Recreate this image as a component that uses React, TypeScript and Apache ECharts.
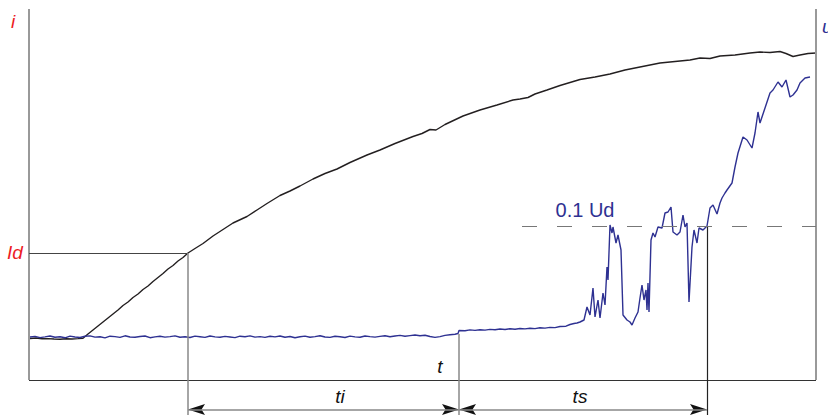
import React, { useEffect, useRef } from "react";
import * as echarts from "echarts";

// time (t) and current i (black trace)
const currentTrace: number[][] = [
  [1, 41.5], [7, 42], [13, 41.2], [19, 41.4], [25, 41], [31, 40.8], [37, 41.2], [43, 41], [49, 41.4], [54, 41.8],
  [59, 46], [64, 50], [69, 54], [74, 58], [79, 62], [84, 66], [89, 70], [94, 74.5], [99, 78], [104, 82.5],
  [109, 86], [114, 90.5], [119, 94], [124, 98.5], [129, 102.5], [134, 106.5], [139, 111], [144, 114.5], [149, 119],
  [154, 122.5], [159, 127], [166, 131.5], [174, 136.5], [184, 144], [194, 150.5], [204, 157], [218, 163.5],
  [228, 170], [238, 176.5], [251, 184.5], [261, 189], [271, 194], [284, 201], [296, 206.5], [308, 211],
  [321, 217.5], [338, 225], [351, 230], [366, 236.5], [384, 243.5], [393, 246.5], [401, 250.5], [407, 250],
  [416, 255.5], [434, 264], [451, 270], [468, 275], [484, 280], [491, 281], [499, 282.5], [506, 286], [518, 290],
  [531, 294.5], [551, 300.5], [566, 303], [581, 306], [596, 310], [611, 313], [631, 317], [646, 318.5],
  [661, 320], [671, 322], [681, 321.5], [691, 324], [706, 325], [721, 327], [731, 328], [741, 327.5],
  [751, 328.5], [757, 326.5], [764, 323.5], [771, 325], [779, 326.5], [787, 327],
];

// time (t) and voltage u (blue trace)
const voltageTrace: number[][] = [
  [1, 43.0], [6, 43.6], [11, 42.4], [16, 43.1], [21, 44.0], [26, 42.8], [31, 43.3], [36, 42.2], [41, 43.9], [46, 43.0],
  [51, 42.5], [56, 43.7], [61, 44.1], [66, 42.9], [71, 43.2], [76, 42.1], [81, 43.8], [86, 43.4], [91, 42.6], [96, 44.2],
  [101, 43.0], [106, 42.7], [111, 43.5], [116, 44.0], [121, 42.3], [126, 43.1], [131, 43.8], [136, 42.9], [141, 43.4],
  [146, 44.1], [151, 42.8], [156, 43.2], [161, 42.5], [166, 43.9], [171, 43.3], [176, 42.6], [181, 44.0], [186, 43.1],
  [191, 42.7], [196, 43.6], [201, 43.0], [206, 42.4], [211, 43.8], [216, 43.2], [221, 44.1], [226, 42.9], [231, 43.4],
  [236, 42.6], [241, 43.7], [246, 43.1], [251, 44.0], [256, 42.8], [261, 43.5], [266, 42.3], [271, 43.2], [276, 43.9],
  [281, 42.7], [286, 43.4], [291, 44.2], [296, 43.0], [301, 42.6], [306, 43.7], [311, 43.3], [316, 42.5], [321, 43.9],
  [326, 43.1], [331, 42.8], [336, 44.0], [341, 43.4], [346, 42.9], [351, 43.6], [356, 44.3], [361, 43.2], [366, 44.0],
  [371, 44.6], [376, 43.8], [381, 44.4], [386, 45.0], [391, 44.2], [396, 44.8], [401, 43.5], [406, 42.6], [411, 43.4],
  [416, 44.6], [421, 45.2], [426, 45.8], [429, 46.5],
  [430, 49.5], [436, 49.2], [441, 50.1], [446, 49.6], [451, 50.3], [456, 49.9], [461, 50.6], [466, 50.2], [471, 51.0],
  [476, 50.5], [481, 51.2], [486, 50.8], [491, 51.5], [496, 51.1], [501, 51.8], [506, 51.4], [511, 52.2], [516, 51.9],
  [521, 52.6], [526, 52.4], [531, 53.5], [537, 53.8], [541, 55.5], [545, 56.5], [548, 57], [551, 58], [555, 60],
  [558, 73], [561, 65], [564, 92], [566, 63], [569, 80], [571, 62], [574, 87], [576, 75], [578, 113], [579, 100],
  [581, 155], [583, 147], [584, 153], [587, 137], [589, 145], [592, 130], [594, 65], [598, 60], [601, 58], [603, 55],
  [606, 62], [609, 68], [611, 82], [613, 95], [615, 80], [617, 90], [618, 70], [619, 97], [620, 68], [622, 140],
  [624, 147], [626, 143], [629, 153], [633, 152], [636, 167], [639, 168], [642, 173], [644, 148], [648, 145],
  [651, 148], [654, 165], [656, 153], [658, 157], [660, 78], [663, 133], [665, 150], [668, 137], [670, 152],
  [674, 150], [678, 154], [681, 172], [684, 175], [688, 166], [691, 177], [693, 182], [696, 187], [698, 190],
  [703, 197], [706, 213], [709, 227], [714, 243], [718, 240], [723, 232], [726, 247], [729, 268], [731, 257],
  [736, 272], [741, 287], [744, 290], [749, 298], [753, 293], [757, 300], [761, 283], [764, 285], [768, 290],
  [771, 297], [776, 302], [781, 303],
];

// reference levels / instants
const ID_LEVEL = 127; // Id
const UD_LEVEL = 154; // 0.1 Ud
const T_ID = 159; // current reaches Id
const T_SWITCH = 430; // t
const T_END = 678; // voltage reaches 0.1 Ud
const T_FRAME = 787;
const I_FRAME = 371;
const ARROW_Y = -29.5;
const BOTTOM = -35;
const U_AT_SWITCH = 46;

// arrow tips: [t, level, direction]
const arrowTips: number[][] = [
  [T_ID, ARROW_Y, -1],
  [T_SWITCH, ARROW_Y, 1],
  [T_SWITCH, ARROW_Y, -1],
  [T_END, ARROW_Y, 1],
];

const RED = "#ed1c24";
const BLUE = "#2e3192";
const FONT = "Liberation Sans, Arial, sans-serif";

export default function App() {
  const ref = useRef<HTMLDivElement>(null);
  useEffect(() => {
    if (!ref.current) return;
    const chart = echarts.init(ref.current, undefined, { renderer: "svg" });
    const txt = (text: string, x: number, y: number, color: string, italic = true, align = "center", size = 19) => ({
      type: "text",
      x,
      y,
      style: {
        text,
        fill: color,
        font: `${italic ? "italic " : ""}${size}px ${FONT}`,
        align,
        verticalAlign: "middle",
      },
      silent: true,
    });
    const line = (a: number[], b: number[], color: string, width: number, type: any = "solid") => [
      { coord: a, lineStyle: { color, width, type } },
      { coord: b },
    ];
    chart.setOption({
      animation: false,
      grid: { left: 0, right: 0, top: 0, bottom: 0 },
      xAxis: { type: "value", min: -29, max: 799, show: false },
      yAxis: { type: "value", min: BOTTOM, max: 380, show: false },
      series: [
        {
          type: "line",
          data: [],
          silent: true,
          markLine: {
            silent: true,
            symbol: ["none", "none"],
            label: { show: false },
            emphasis: { disabled: true },
            data: [
              line([0, 0], [0, I_FRAME], "#999999", 2),
              line([T_FRAME, 0], [T_FRAME, I_FRAME], "#999999", 2),
              line([0, 0], [T_FRAME, 0], "#333333", 1),
              line([0, ID_LEVEL], [T_ID, ID_LEVEL], "#444444", 1),
              line([T_ID, ID_LEVEL], [T_ID, BOTTOM], "#888888", 1.5),
              line([T_SWITCH, U_AT_SWITCH], [T_SWITCH, BOTTOM], "#888888", 1.5),
              line([T_END, UD_LEVEL], [T_END, BOTTOM], "#222222", 1.2),
              line([493, UD_LEVEL], [T_FRAME, UD_LEVEL], "#777777", 1.2, [15, 20]),
              line([T_ID, ARROW_Y], [T_END, ARROW_Y], "#888888", 1.5),
            ],
          },
        },
        {
          type: "custom",
          silent: true,
          data: arrowTips,
          renderItem: (params: any, api: any) => {
            const p = api.coord([api.value(0), api.value(1)]);
            const d = api.value(2);
            const x = p[0];
            const y = p[1];
            return {
              type: "polygon",
              shape: {
                points: [
                  [x, y],
                  [x - d * 17, y - 5.5],
                  [x - d * 13.5, y],
                  [x - d * 17, y + 5.5],
                ],
              },
              style: { fill: "#111111" },
            };
          },
        },
        {
          type: "line",
          data: currentTrace,
          showSymbol: false,
          silent: true,
          lineStyle: { color: "#231f20", width: 1.4 },
        },
        {
          type: "line",
          data: voltageTrace,
          showSymbol: false,
          silent: true,
          lineStyle: { color: BLUE, width: 1.4 },
        },
      ],
      graphic: [
        txt("i", 13, 21, RED),
        txt("u", 822, 26, BLUE, true, "left"),
        txt("Id", 15, 252, RED),
        txt("t", 440, 366, "#111111"),
        txt("ti", 340, 396, "#111111"),
        txt("ts", 580, 396, "#111111"),
        txt("0.1 Ud", 585, 210, BLUE, false, "center", 20),
      ],
    });
    return () => chart.dispose();
  }, []);
  return (
    <div
      ref={ref}
      style={{ position: "absolute", left: 0, top: 0, width: 828, height: 415, background: "#ffffff" }}
    />
  );
}
